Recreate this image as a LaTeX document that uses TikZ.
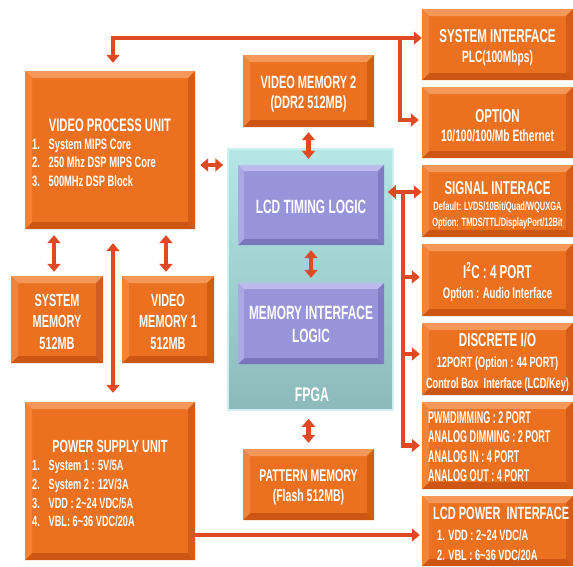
\documentclass[tikz,border=0pt]{standalone}
\usepackage{fontspec}
\setmainfont{Liberation Sans}
\newfontfamily\nf[FakeStretch=0.62]{Liberation Sans}
\newfontfamily\nfc[FakeStretch=0.53]{Liberation Sans}
\usetikzlibrary{arrows.meta}
\definecolor{orB}{RGB}{235,113,33}
\definecolor{orT}{RGB}{243,152,88}
\definecolor{orL}{RGB}{240,132,58}
\definecolor{orR}{RGB}{212,92,24}
\definecolor{orD}{RGB}{205,86,20}
\definecolor{puB}{RGB}{152,148,218}
\definecolor{puT}{RGB}{190,186,238}
\definecolor{puL}{RGB}{172,168,230}
\definecolor{puR}{RGB}{128,124,196}
\definecolor{puD}{RGB}{122,118,190}
\definecolor{tealT}{RGB}{182,230,230}
\definecolor{tealB}{RGB}{140,186,186}
\definecolor{tealE}{RGB}{205,240,240}
\definecolor{arrC}{RGB}{222,74,36}
\newcommand\ft[2]{\fontsize{\fpeval{#1*1.097}}{#2}\selectfont}
\newcommand\bevelpic[5]{%
  \coordinate (bvsw) at (path picture bounding box.south west);
  \coordinate (bvse) at (path picture bounding box.south east);
  \coordinate (bvnw) at (path picture bounding box.north west);
  \coordinate (bvne) at (path picture bounding box.north east);
  \fill[#1] (bvnw) -- (bvne) -- ([shift={(-#5,-#5)}]bvne) -- ([shift={(#5,-#5)}]bvnw) -- cycle;
  \fill[#4] (bvsw) -- (bvse) -- ([shift={(-#5,#5)}]bvse) -- ([shift={(#5,#5)}]bvsw) -- cycle;
  \fill[#2] (bvnw) -- (bvsw) -- ([shift={(#5,#5)}]bvsw) -- ([shift={(#5,-#5)}]bvnw) -- cycle;
  \fill[#3] (bvne) -- (bvse) -- ([shift={(-#5,#5)}]bvse) -- ([shift={(-#5,-#5)}]bvne) -- cycle;
}
\tikzset{
  obox/.style={rectangle, fill=orB, inner sep=0pt,
    path picture={\bevelpic{orT}{orL}{orR}{orD}{7pt}}},
  pbox/.style={rectangle, fill=puB, inner sep=0pt,
    path picture={\bevelpic{puT}{puL}{puR}{puD}{6pt}}},
  sz/.style 2 args={minimum width=#1pt, minimum height=#2pt},
  txt/.style={inner sep=0pt, text=white, align=center},
  arr/.style={draw=arrC, line width=4.5pt},
  >={Triangle[width=13pt,length=8pt]}
}
\begin{document}
\begin{tikzpicture}[x=1pt,y=-1pt]
\useasboundingbox (0,0) rectangle (573,566);
\fill[white] (0,0) rectangle (573,566);

% FPGA
\node[rectangle, sz={165}{261}, top color=tealT, bottom color=tealB, draw=tealE, line width=1.5pt] (fpga) at (310.5,279.5) {};
\node[pbox, sz={146}{80}] (lcdt) at (311,205) {};
\node[txt, font=\nf\bfseries\ft{17.5}{23}] (lcdtt) at (311,207) {LCD TIMING LOGIC};
\node[pbox, sz={146}{81}] (memif) at (311,323.5) {};
\node[txt, font=\nf\bfseries\ft{17.5}{23}] (memift) at (311,324) {MEMORY INTERFACE\\LOGIC};
\node[txt, font=\nf\bfseries\ft{18}{20}] (fpgal) at (312,395) {FPGA};

% right column
\node[obox, sz={151}{71}] (sysif) at (497.5,44.5) {};
\node[txt, font=\nf\bfseries\ft{15}{20}] (sysift) at ([yshift=-3pt]sysif.center) {{\ft{17}{20}SYSTEM INTERFACE}\\PLC(100Mbps)};
\node[obox, sz={151}{71}] (option) at (497.5,122.5) {};
\node[txt, font=\nf\bfseries\ft{15}{19}] (optiont) at ([yshift=-3pt]option.center) {{\ft{17}{19}OPTION}\\10/100/100/Mb Ethernet};
\node[obox, sz={151}{72}] (signal) at (497.5,201) {};
\node[txt, font=\nf\bfseries\ft{11}{16}] (signalt) at ([yshift=-4pt]signal.center) {{\ft{17}{16}SIGNAL INTERACE}\\Default: LVDS/10Bit/Quad/WQUXGA\\Option: TMDS/TTL/DisplayPort/12Bit};
\node[obox, sz={151}{72}] (i2c) at (497.5,280) {};
\node[txt, font=\nf\bfseries\ft{14}{20}] (i2ct) at ([yshift=-2pt]i2c.center) {{\ft{17}{20}I\textsuperscript{2}C : 4 PORT}\\Option : Audio Interface};
\node[obox, sz={151}{72}] (discrete) at (497.5,359) {};
\node[txt, font=\nf\bfseries\ft{13.5}{21}] (discretet) at ([yshift=-3pt]discrete.center) {{\ft{17}{21}DISCRETE I/O}\\12PORT (Option : 44 PORT)\\Control Box\ \ Interface (LCD/Key)};
\node[obox, sz={151}{87}] (pwm) at (497.5,445.5) {};
\node[txt, anchor=west, align=left, font=\nfc\bfseries\ft{15.5}{19.5}] (pwmt) at (428,446.5) {PWMDIMMING : 2 PORT\\ANALOG DIMMING : 2 PORT\\ANALOG IN : 4 PORT\\ANALOG OUT : 4 PORT};
\node[obox, sz={151}{70}] (lcdpow) at (497.5,531) {};
\node[txt, anchor=west, align=left, font=\nf\bfseries\ft{13.6}{20.5}] (lcdpowt) at (433,534) {{\ft{16.2}{20}LCD POWER\ \ INTERFACE}\\\hspace*{4pt}1. VDD : 2\textasciitilde24 VDC/A\\\hspace*{4pt}2. VBL : 6\textasciitilde36 VDC/20A};

% middle column
\node[obox, sz={131}{72}] (vm2) at (308.5,91) {};
\node[txt, font=\nf\bfseries\ft{16.2}{20}] (vm2t) at ([yshift=-3.5pt]vm2.center) {VIDEO MEMORY 2\\(DDR2 512MB)};
\node[obox, sz={131}{71}] (pattern) at (308.5,484.5) {};
\node[txt, font=\nf\bfseries\ft{15.5}{20}] (patternt) at ([yshift=-3pt]pattern.center) {PATTERN MEMORY\\(Flash 512MB)};

% left column
\node[obox, sz={170}{158}] (vpu) at (110,150) {};
\node[txt, font=\nf\bfseries\ft{16.5}{20}] (vput) at (110,125) {VIDEO PROCESS UNIT};
\node[txt, anchor=west, align=left, font=\nf\bfseries\ft{13.7}{18.5}] (vpul) at (32,162.5) {\makebox[16.5pt][l]{1.}System MIPS Core\\\makebox[16.5pt][l]{2.}250 Mhz DSP MIPS Core\\\makebox[16.5pt][l]{3.}500MHz DSP Block};
\node[obox, sz={92}{87}] (sysmem) at (57,319.5) {};
\node[txt, font=\nf\bfseries\ft{16}{21.5}] (sysmemt) at ([yshift=-2pt]sysmem.center) {SYSTEM\\MEMORY\\512MB};
\node[obox, sz={92}{87}] (vm1) at (168,319.5) {};
\node[txt, font=\nf\bfseries\ft{16}{21.5}] (vm1t) at ([yshift=-2pt]vm1.center) {VIDEO\\MEMORY 1\\512MB};
\node[obox, sz={170}{158}] (psu) at (110,481) {};
\node[txt, font=\nf\bfseries\ft{16}{20}] (psut) at (110,446) {POWER SUPPLY UNIT};
\node[txt, anchor=west, align=left, font=\nf\bfseries\ft{13.5}{18.7}] (psul) at (32,493.5) {\makebox[16.5pt][l]{1.}System 1 : 5V/5A\\\makebox[16.5pt][l]{2.}System 2 : 12V/3A\\\makebox[16.5pt][l]{3.}VDD : 2\textasciitilde24 VDC/5A\\\makebox[16.5pt][l]{4.}VBL: 6\textasciitilde36 VDC/20A};

% connectors
\draw[arr,<->,shorten >=8pt] ([yshift=6.5pt]sysif.west) -| ([xshift=3pt]vpu.north);
\coordinate (br) at (400,38);
\draw[arr,->,shorten >=3pt] (br) |- ([yshift=2.5pt]option.west);
\draw[arr,<->,shorten <=5pt,shorten >=4pt] ([yshift=-15pt]vpu.east) -- ([yshift=-15pt]vpu.east -| fpga.west);
\draw[arr,<->,shorten <=5pt,shorten >=6pt] (vm2.south) -- (vm2.south |- lcdt.north);
\draw[arr,<->,shorten <=5pt,shorten >=5pt] (lcdt.south) -- (memif.north);
\draw[arr,<->,shorten <=6pt,shorten >=8pt] (pattern.north) -- (pattern.north |- fpga.south);
\draw[arr,<->,shorten <=4pt,shorten >=6pt] ([xshift=-3pt]sysmem.north) -- ([xshift=-3pt]sysmem.north |- vpu.south);
\draw[arr,<->,shorten <=4pt,shorten >=6pt] ([xshift=-2pt]vm1.north) -- ([xshift=-2pt]vm1.north |- vpu.south);
\draw[arr,<->,shorten <=14pt,shorten >=9pt] ([xshift=3pt]vpu.south) -- ([xshift=3pt]psu.north);
\draw[arr,<->,shorten >=-6pt] ([yshift=9pt]signal.west) -- ([yshift=9pt]signal.west -| fpga.east);
\coordinate (bt) at (403,192);
\draw[arr,->,shorten >=2pt] (bt) |- (pwm.west);
\draw[arr,->,shorten >=2pt] ([yshift=3pt]i2c.west -| bt) -- ([yshift=3pt]i2c.west);
\draw[arr,->,shorten >=2pt] ([yshift=5pt]discrete.west -| bt) -- ([yshift=5pt]discrete.west);
\draw[arr,->,shorten >=2pt] ([yshift=-4pt]lcdpow.west -| psu.east) -- ([yshift=-4pt]lcdpow.west);
\end{tikzpicture}
\end{document}
